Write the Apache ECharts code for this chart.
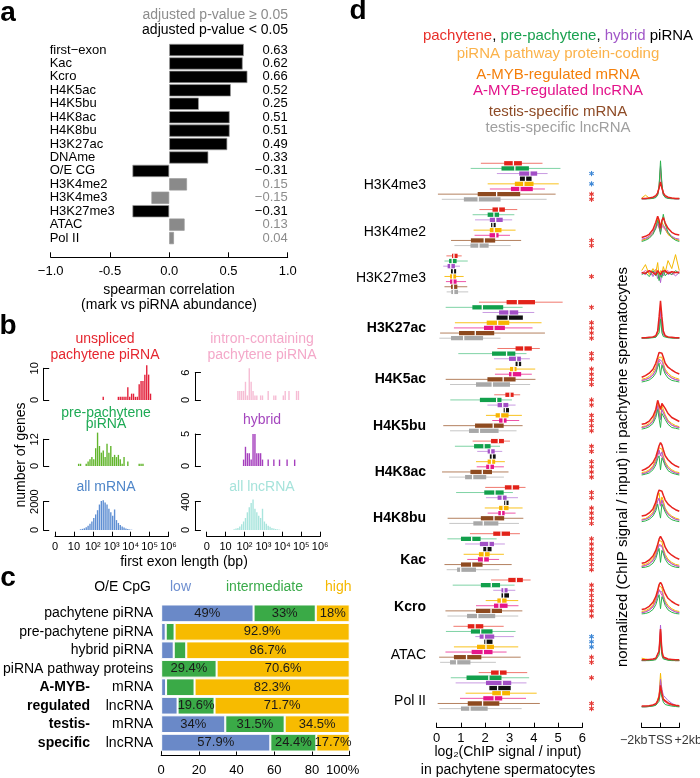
<!DOCTYPE html>
<html><head><meta charset="utf-8">
<script src="https://cdn.jsdelivr.net/npm/echarts@6/dist/echarts.min.js"></script>
<style>html,body{margin:0;padding:0;background:#fff}#c{width:700px;height:778px}</style>
</head><body><div id="c"></div>
<script>
// ---------------- DATA ----------------
// Panel a
const A_MARKS = ['first\u2212exon','Kac','Kcro','H4K5ac','H4K5bu','H4K8ac','H4K8bu','H3K27ac','DNAme','O/E CG','H3K4me2','H3K4me3','H3K27me3','ATAC','Pol II'];
const A_RHO = [0.63,0.62,0.66,0.52,0.25,0.51,0.51,0.49,0.33,-0.31,0.15,-0.15,-0.31,0.13,0.04];
const A_SIG = [1,1,1,1,1,1,1,1,1,1,0,0,1,0,0];
const A_TICK_LABELS = ['\u22121.0','-0.5','0.0','0.5','1.0'];

// Panel b : [log10 bin start, number of genes]
const B_XTICK_LABELS = ['0','10','10\u00b2','10\u00b3','10\u2074','10\u2075','10\u2076'];
const B_UNSPLICED = [[2.5,1],[3.3,1],[3.4,1],[3.5,1],[3.6,1],[3.7,1],[3.8,4],[3.9,1],[4.0,2],[4.1,2],[4.2,1],[4.3,1],[4.4,5],[4.5,6],[4.6,6],[4.7,8],[4.8,11],[4.9,8],[5.0,2]];
const B_INTRON = [[1.6,2],[1.7,2],[1.8,2],[1.9,2],[2.0,4],[2.1,1],[2.2,7],[2.3,4],[2.4,2],[2.5,1],[2.6,1],[2.8,1],[2.9,1],[3.2,2],[3.5,1],[3.6,1],[4.0,1],[4.1,2],[4.3,2],[4.7,2],[4.8,2]];
const B_PREPACH = [[1.2,1],[1.3,1],[1.6,1],[1.7,2],[1.8,3],[1.9,4],[2.0,3],[2.1,8],[2.2,15],[2.3,9],[2.4,6],[2.5,7],[2.6,4],[2.7,10],[2.8,6],[2.9,9],[3.0,4],[3.1,5],[3.2,4],[3.3,5],[3.4,3],[3.5,1],[3.6,4],[3.8,2],[4.4,1],[4.5,1],[4.6,1]];
const B_HYBRID = [[1.9,1],[2.0,3],[2.1,2],[2.2,2],[2.3,1],[2.4,5],[2.5,5],[2.6,2],[2.7,2],[2.8,2],[2.9,1],[3.2,1],[3.5,1],[3.8,1],[4.2,1],[4.6,1]];
const B_MRNA = [[1.3,50],[1.4,80],[1.5,120],[1.6,200],[1.7,300],[1.8,450],[1.9,600],[2.0,850],[2.1,1100],[2.2,1400],[2.3,1800],[2.4,2050],[2.5,2100],[2.6,1950],[2.7,1800],[2.8,1500],[2.9,1250],[3.0,1000],[3.1,1450],[3.2,700],[3.3,500],[3.4,350],[3.5,250],[3.6,170],[3.7,110],[3.8,70],[3.9,40],[4.0,20]];
const B_LNCRNA = [[1.4,10],[1.5,20],[1.6,30],[1.7,50],[1.8,80],[1.9,120],[2.0,170],[2.1,250],[2.2,320],[2.3,380],[2.4,430],[2.5,300],[2.6,250],[2.7,200],[2.8,170],[2.9,300],[3.0,120],[3.1,90],[3.2,60],[3.3,45],[3.4,30],[3.5,20],[3.6,15],[3.7,10],[3.8,5]];
const B_BINW = 0.1;

// Panel c
const C_ROWS = ['pachytene piRNA','pre-pachytene piRNA','hybrid piRNA','piRNA pathway proteins','mRNA','lncRNA','mRNA','lncRNA'];
const C_LOW = [49,2.4,6.65,0,2.6,8.7,34,57.9];
const C_INTER = [33,4.7,6.65,29.4,15.1,19.6,31.5,24.4];
const C_HIGH = [18,92.9,86.7,70.6,82.3,71.7,34.5,17.7];
const C_LOW_TXT = ['49%','','','','','','34%','57.9%'];
const C_INTER_TXT = ['33%','','','29.4%','','19.6%','31.5%','24.4%'];
const C_HIGH_TXT = ['18%','92.9%','86.7%','70.6%','82.3%','71.7%','34.5%','17.7%'];

// Panel d : [low whisker, q1, median, q3, high whisker] for the 8 gene groups
const D_MARKS = ['H3K4me3','H3K4me2','H3K27me3','H3K27ac','H4K5ac','H4K5bu','H4K8ac','H4K8bu','Kac','Kcro','ATAC','Pol II'];
const D_BOLD = [0,0,0,1,1,1,1,1,1,1,0,0];
const BOX_H3K4me3 = [[1.82,2.78,3.16,3.51,4.36],[1.40,2.67,3.22,3.80,5.10],[2.48,3.40,3.84,4.14,4.57],[3.43,3.43,3.66,3.91,3.91],[2.10,3.22,3.59,3.99,5.03],[2.19,3.06,3.43,3.96,4.46],[0.05,1.69,2.47,3.44,4.90],[0.21,1.12,1.71,2.63,4.53]];
const BOX_H3K4me2 = [[1.76,2.30,2.55,2.81,3.32],[1.48,2.10,2.36,2.57,3.20],[1.58,2.19,2.43,2.72,3.11],[2.24,2.24,2.32,2.43,2.43],[1.52,2.19,2.37,2.67,3.25],[1.56,2.18,2.43,2.55,3.02],[0.59,1.41,1.96,2.41,3.48],[0.73,1.39,1.74,2.14,3.05]];
const BOX_H3K27me3 = [[0.40,0.63,0.71,0.86,1.03],[0.32,0.51,0.64,0.82,1.28],[0.27,0.45,0.58,0.75,0.96],[0.59,0.59,0.69,0.80,0.80],[0.32,0.55,0.66,0.80,1.11],[0.38,0.55,0.67,0.82,1.21],[0.32,0.59,0.69,0.85,1.26],[0.41,0.60,0.70,0.88,1.30]];
const BOX_H3K27ac = [[1.74,2.88,3.33,4.05,5.19],[0.37,1.47,1.88,2.74,3.54],[1.89,2.57,2.98,3.36,4.02],[2.47,2.47,2.95,3.55,3.55],[0.75,2.06,2.51,2.99,4.32],[0.71,1.95,2.36,2.81,3.95],[0.14,0.92,1.59,2.37,4.46],[0.11,0.59,1.11,1.91,2.63]];
const BOX_H4K5ac = [[2.50,3.25,3.59,3.92,4.25],[0.89,2.28,2.88,3.24,3.70],[2.36,2.98,3.29,3.47,3.84],[3.25,3.25,3.36,3.48,3.48],[2.43,3.02,3.18,3.29,4.06],[2.40,2.98,3.11,3.48,3.92],[0.37,2.09,2.74,3.25,4.07],[0.55,1.62,2.29,3.02,3.85]];
const BOX_H4K5bu = [[2.37,2.83,3.02,3.17,3.44],[0.56,1.78,2.47,2.67,3.10],[2.09,2.51,2.72,2.95,3.25],[2.76,2.76,2.83,2.98,2.98],[2.03,2.43,2.63,2.96,3.51],[2.29,2.57,2.74,2.88,3.40],[0.27,1.58,2.33,2.76,3.54],[0.55,1.33,1.76,2.55,3.29]];
const BOX_H4K8ac = [[1.48,2.24,2.54,2.77,3.02],[0.75,1.54,1.95,2.22,2.61],[1.67,2.10,2.22,2.39,2.70],[2.19,2.19,2.29,2.43,2.43],[1.62,2.10,2.26,2.41,2.81],[1.65,2.04,2.19,2.36,2.77],[0.22,1.39,1.88,2.28,2.96],[0.51,1.17,1.48,2.04,2.77]];
const BOX_H4K8bu = [[2.00,2.81,3.11,3.40,3.66],[0.80,1.96,2.40,2.76,3.14],[2.03,2.51,2.70,2.88,3.35],[2.78,2.78,2.85,2.96,2.96],[1.98,2.57,2.74,2.96,3.54],[2.10,2.54,2.67,2.80,3.25],[0.45,1.82,2.36,2.78,3.57],[0.52,1.51,1.92,2.54,3.39]];
const BOX_Kac = [[1.37,2.33,2.65,3.02,3.43],[0.44,1.00,1.44,1.81,2.47],[1.17,1.78,2.15,2.36,2.81],[1.92,1.92,2.07,2.26,2.26],[1.11,1.74,1.96,2.18,2.77],[1.26,1.70,1.93,2.15,2.57],[0.32,1.00,1.44,1.89,3.09],[0.41,0.84,0.99,1.62,2.58]];
const BOX_Kcro = [[2.24,2.95,3.28,3.55,3.87],[0.66,1.82,2.25,2.61,3.21],[2.33,2.67,2.77,2.92,3.24],[2.67,2.67,2.76,2.98,2.98],[2.02,2.50,2.67,2.88,3.36],[1.62,2.36,2.57,2.92,3.37],[0.36,1.62,2.24,2.69,3.53],[0.44,1.25,1.69,2.41,3.36]];
const BOX_ATAC = [[0.69,1.28,1.58,1.92,2.76],[0.38,1.41,1.81,2.30,3.25],[1.59,1.77,1.96,2.37,3.18],[1.96,1.96,2.03,2.30,2.30],[0.71,1.66,2.03,2.36,3.36],[0.36,1.44,1.92,2.30,2.88],[0.10,0.71,1.23,1.84,3.46],[0.14,0.55,0.82,1.39,2.44]];
const BOX_PolII = [[1.73,2.24,2.58,2.88,3.73],[0.58,1.23,2.15,2.67,3.81],[0.78,2.03,2.70,3.07,3.70],[2.17,2.17,2.51,3.05,3.05],[1.19,2.29,2.67,3.02,4.12],[0.96,1.92,2.37,2.70,3.68],[0.04,1.28,1.89,2.58,4.25],[0.11,1.00,1.37,2.10,3.50]];
// significance stars: row indices (0..7) of each group
const STAR_RED = [[6,7],[6,7],[4],[1,4,5,6,7],[1,2,4,5,6,7],[1,2,4,5,6,7],[1,2,4,5,6,7],[1,2,4,5,6,7],[1,2,3,4,5,6,7],[1,2,3,4,5,6,7],[6,7],[1,6,7]];
const STAR_BLUE = [[2,4],[],[],[],[],[],[],[],[],[],[2,3,4],[]];

// TSS profiles (normalized); line order: pink, yellow, purple, green, red
const PROF_X = [-2,-1.6,-1.2,-0.8,-0.5,-0.3,-0.15,0,0.15,0.3,0.5,0.8,1.2,1.6,2];
const PROF_TICK_LABELS = ['\u22122kb','TSS','+2kb'];
const PROF_H3K4me3 = [[0.03,0.03,0.04,0.05,0.08,0.14,0.3,0.7,0.3,0.14,0.08,0.05,0.04,0.03,0.03],[0.05,0.12,0.05,0.05,0.08,0.15,0.35,0.8,0.35,0.15,0.08,0.05,0.04,0.04,0.04],[0.03,0.03,0.04,0.05,0.07,0.14,0.35,0.85,0.38,0.14,0.07,0.05,0.04,0.03,0.03],[0.03,0.03,0.03,0.04,0.06,0.12,0.35,0.98,0.4,0.13,0.06,0.04,0.03,0.03,0.03],[0.04,0.04,0.05,0.07,0.11,0.18,0.3,0.45,0.3,0.18,0.11,0.07,0.05,0.04,0.04]];
const PROF_H3K4me2 = [[0.15,0.18,0.22,0.32,0.45,0.55,0.5,0.35,0.5,0.55,0.42,0.3,0.22,0.18,0.15],[0.15,0.18,0.25,0.35,0.5,0.7,0.6,0.4,0.6,0.65,0.45,0.3,0.22,0.18,0.15],[0.18,0.2,0.25,0.35,0.5,0.6,0.5,0.35,0.55,0.6,0.45,0.35,0.25,0.2,0.18],[0.12,0.15,0.2,0.3,0.45,0.65,0.55,0.3,0.6,0.8,0.55,0.35,0.22,0.15,0.12],[0.22,0.25,0.3,0.42,0.6,0.75,0.65,0.45,0.65,0.72,0.58,0.45,0.35,0.3,0.28]];
const PROF_H3K27me3 = [[0.48,0.55,0.5,0.45,0.58,0.48,0.52,0.4,0.55,0.48,0.5,0.55,0.45,0.5,0.52],[0.55,0.7,0.45,0.6,0.5,0.75,0.4,0.55,0.45,0.65,0.5,0.8,0.6,0.95,0.55],[0.5,0.45,0.55,0.4,0.52,0.35,0.45,0.25,0.5,0.42,0.55,0.45,0.5,0.42,0.5],[0.45,0.5,0.4,0.55,0.42,0.5,0.3,0.45,0.38,0.55,0.42,0.5,0.45,0.55,0.48],[0.5,0.48,0.55,0.5,0.45,0.55,0.5,0.45,0.52,0.5,0.55,0.48,0.52,0.5,0.5]];
const PROF_H3K27ac = [[0.02,0.02,0.03,0.04,0.05,0.1,0.3,0.65,0.3,0.1,0.05,0.04,0.03,0.02,0.02],[0.03,0.03,0.03,0.04,0.06,0.12,0.35,0.75,0.35,0.12,0.06,0.04,0.03,0.03,0.03],[0.02,0.02,0.03,0.04,0.05,0.1,0.3,0.7,0.3,0.1,0.05,0.04,0.03,0.02,0.02],[0.02,0.02,0.02,0.03,0.04,0.06,0.15,0.5,0.15,0.06,0.04,0.03,0.02,0.02,0.02],[0.03,0.03,0.04,0.05,0.08,0.2,0.55,0.95,0.55,0.2,0.08,0.05,0.04,0.03,0.03]];
const PROF_H4K5ac = [[0.12,0.14,0.18,0.26,0.38,0.52,0.62,0.55,0.6,0.48,0.34,0.25,0.18,0.14,0.12],[0.15,0.17,0.22,0.32,0.45,0.6,0.7,0.65,0.7,0.55,0.4,0.3,0.22,0.18,0.15],[0.12,0.14,0.18,0.25,0.38,0.55,0.65,0.6,0.6,0.5,0.35,0.25,0.18,0.14,0.12],[0.08,0.1,0.13,0.2,0.3,0.45,0.55,0.25,0.5,0.4,0.28,0.18,0.12,0.1,0.08],[0.2,0.24,0.3,0.4,0.55,0.7,0.82,0.85,0.8,0.7,0.55,0.45,0.38,0.32,0.28]];
const PROF_H4K5bu = [[0.1,0.12,0.17,0.26,0.42,0.62,0.58,0.3,0.55,0.52,0.36,0.24,0.16,0.12,0.1],[0.12,0.14,0.2,0.3,0.5,0.75,0.7,0.35,0.65,0.6,0.42,0.28,0.2,0.15,0.12],[0.1,0.12,0.16,0.25,0.42,0.65,0.6,0.3,0.55,0.55,0.38,0.25,0.16,0.12,0.1],[0.06,0.08,0.12,0.2,0.35,0.55,0.5,0.1,0.45,0.5,0.3,0.18,0.1,0.08,0.06],[0.18,0.2,0.26,0.38,0.55,0.78,0.75,0.55,0.7,0.72,0.58,0.45,0.35,0.3,0.25]];
const PROF_H4K8ac = [[0.1,0.12,0.17,0.26,0.4,0.55,0.65,0.58,0.62,0.48,0.34,0.24,0.17,0.12,0.1],[0.13,0.15,0.2,0.3,0.45,0.62,0.75,0.7,0.72,0.55,0.4,0.28,0.2,0.15,0.13],[0.1,0.12,0.16,0.25,0.4,0.6,0.7,0.55,0.65,0.5,0.35,0.24,0.16,0.12,0.1],[0.07,0.09,0.12,0.2,0.32,0.48,0.55,0.2,0.5,0.42,0.3,0.18,0.12,0.09,0.07],[0.18,0.22,0.28,0.38,0.52,0.68,0.8,0.88,0.82,0.7,0.55,0.45,0.36,0.3,0.26]];
const PROF_H4K8bu = [[0.1,0.12,0.17,0.26,0.4,0.58,0.64,0.45,0.6,0.5,0.35,0.24,0.17,0.12,0.1],[0.12,0.14,0.2,0.3,0.48,0.7,0.78,0.5,0.68,0.58,0.4,0.28,0.2,0.15,0.12],[0.1,0.12,0.16,0.25,0.4,0.58,0.65,0.45,0.6,0.5,0.36,0.25,0.17,0.12,0.1],[0.06,0.08,0.12,0.2,0.33,0.5,0.55,0.15,0.5,0.45,0.3,0.18,0.11,0.08,0.06],[0.2,0.22,0.28,0.38,0.55,0.75,0.85,0.8,0.82,0.72,0.6,0.5,0.42,0.36,0.32]];
const PROF_Kac = [[0.1,0.12,0.17,0.26,0.4,0.55,0.65,0.62,0.62,0.48,0.34,0.24,0.17,0.12,0.1],[0.13,0.15,0.2,0.3,0.45,0.62,0.75,0.78,0.72,0.55,0.4,0.28,0.2,0.15,0.13],[0.1,0.12,0.16,0.24,0.36,0.52,0.62,0.58,0.6,0.5,0.34,0.23,0.16,0.12,0.1],[0.07,0.08,0.11,0.18,0.3,0.45,0.55,0.2,0.5,0.42,0.28,0.17,0.11,0.08,0.07],[0.18,0.2,0.26,0.36,0.5,0.65,0.78,0.85,0.82,0.72,0.58,0.46,0.38,0.32,0.28]];
const PROF_Kcro = [[0.1,0.12,0.17,0.26,0.4,0.55,0.68,0.6,0.62,0.48,0.34,0.24,0.17,0.12,0.1],[0.13,0.15,0.2,0.3,0.45,0.62,0.78,0.75,0.72,0.55,0.4,0.28,0.2,0.15,0.13],[0.1,0.12,0.16,0.24,0.38,0.55,0.65,0.6,0.62,0.5,0.34,0.23,0.16,0.12,0.1],[0.07,0.08,0.11,0.18,0.3,0.45,0.55,0.2,0.5,0.42,0.28,0.17,0.11,0.08,0.07],[0.18,0.2,0.26,0.36,0.5,0.66,0.8,0.86,0.8,0.7,0.58,0.46,0.38,0.32,0.28]];
const PROF_ATAC = [[0.06,0.06,0.07,0.08,0.1,0.13,0.28,0.8,0.26,0.12,0.09,0.08,0.07,0.06,0.06],[0.12,0.1,0.08,0.08,0.1,0.14,0.3,0.85,0.28,0.13,0.09,0.08,0.07,0.06,0.06],[0.06,0.06,0.07,0.08,0.1,0.14,0.3,0.95,0.28,0.12,0.09,0.08,0.07,0.06,0.06],[0.06,0.06,0.06,0.07,0.08,0.1,0.2,0.55,0.18,0.1,0.08,0.07,0.06,0.06,0.06],[0.08,0.08,0.09,0.1,0.12,0.16,0.3,0.85,0.3,0.15,0.11,0.1,0.09,0.08,0.08]];
const PROF_PolII = [[0.06,0.06,0.07,0.09,0.11,0.15,0.3,0.7,0.38,0.22,0.17,0.13,0.1,0.08,0.07],[0.07,0.07,0.08,0.1,0.12,0.16,0.35,0.9,0.45,0.28,0.22,0.16,0.12,0.1,0.08],[0.07,0.07,0.08,0.1,0.12,0.16,0.3,0.75,0.5,0.35,0.3,0.22,0.15,0.1,0.08],[0.06,0.06,0.07,0.08,0.1,0.13,0.2,0.45,0.3,0.18,0.12,0.1,0.08,0.07,0.06],[0.08,0.08,0.09,0.11,0.14,0.2,0.32,0.6,0.4,0.25,0.2,0.16,0.12,0.1,0.09]];

// ---------------- BUILD ----------------
const FF = '"Liberation Sans", Arial, Helvetica, sans-serif';
const font = (s, w) => (w || 'normal') + ' ' + s + 'px ' + FF;
const grids = [], xAxes = [], yAxes = [], series = [], graphic = [];
function txt(x, y, text, size, color, align, extra) {
  const e = Object.assign({type:'text', x:x, y:y, silent:true, style:{text:text, font:font(size, extra && extra.weight), fill:color, align:align||'center', textAlign:align||'center', verticalAlign:'middle', textVerticalAlign:'middle'}}, extra && extra.el ? extra.el : {});
  if (extra && extra.rich) e.style.rich = extra.rich;
  graphic.push(e);
}
function addGrid(g, xa, ya) {
  const gi = grids.length; grids.push(g);
  const xi = xAxes.length; xAxes.push(Object.assign({gridIndex:gi}, xa));
  const yi = yAxes.length; yAxes.push(Object.assign({gridIndex:gi}, ya));
  return {gi, xi, yi};
}
const fmtNum = v => (v < 0 ? '\u2212' + Math.abs(v).toFixed(2) : v.toFixed(2));
const axLine = {show:true, onZero:false, lineStyle:{color:'#000', width:1}};
const axTick = {show:true, inside:true, length:5, lineStyle:{color:'#000'}};

// panel letters
txt(8, 13, 'a', 28, '#000', 'center', {weight:'bold'});
txt(8, 326, 'b', 28, '#000', 'center', {weight:'bold'});
txt(8, 578, 'c', 28, '#000', 'center', {weight:'bold'});
txt(358, 11, 'd', 28, '#000', 'center', {weight:'bold'});

// ---- panel a ----
txt(288, 15, 'adjusted p-value \u2265 0.05', 14, '#8c8c8c', 'right');
txt(288, 30, 'adjusted p-value < 0.05', 14, '#000', 'right');
txt(169, 290, 'spearman correlation', 14, '#000');
txt(169, 305, '(mark vs piRNA abundance)', 14, '#000');
const pa = addGrid({left:50.7, top:43.3, width:237, height:201.5},
  {type:'value', min:-1, max:1, interval:0.5, offset:12.5, axisLine:axLine, axisTick:axTick,
   axisLabel:{fontSize:13, color:'#000', fontFamily:FF, margin:8, showMinLabel:true, showMaxLabel:true, formatter:v => A_TICK_LABELS[Math.round((v + 1) / 0.5)]}, splitLine:{show:false}},
  {type:'category', inverse:true, data:A_MARKS, axisLine:{show:false}, axisTick:{show:false},
   axisLabel:{interval:0, align:'left', margin:1, fontSize:13, color:'#000', fontFamily:FF}});
yAxes.push({gridIndex:pa.gi, type:'category', inverse:true, position:'right', data:A_RHO.map(fmtNum), axisLine:{show:false}, axisTick:{show:false},
  axisLabel:{interval:0, align:'right', margin:0, fontSize:13, fontFamily:FF, color:(v, i) => A_SIG[i] ? '#000' : '#8c8c8c'}});
series.push({type:'bar', xAxisIndex:pa.xi, yAxisIndex:pa.yi, barCategoryGap:'9%', silent:true,
  itemStyle:{borderColor:'#9a9a9a', borderWidth:0.7},
  data:A_RHO.map((v, i) => ({value:v, itemStyle:{color:A_SIG[i] ? '#000' : '#8a8a8a'}}))});

// ---- panel b ----
txt(105, 339, 'unspliced', 14, '#e5262f');
txt(105, 355, 'pachytene piRNA', 14, '#e5262f');
txt(262, 339, 'intron-containing', 14, '#f4a8c9');
txt(262, 355, 'pachytene piRNA', 14, '#f4a8c9');
txt(106, 413, 'pre-pachytene', 14, '#1eaa55');
txt(106, 424, 'piRNA', 14, '#1eaa55');
txt(262, 420, 'hybrid', 14, '#a547be');
txt(106, 487, 'all mRNA', 14, '#4f86c9');
txt(262, 487, 'all lncRNA', 14, '#a6e3db');
txt(184, 562, 'first exon length (bp)', 14, '#000');
txt(21, 455, 'number of genes', 14, '#000', 'center', {el:{rotation:Math.PI / 2}});
const B_PANELS = [
  {bins:B_UNSPLICED, color:'#e3203a', left:55, top:368.3, h:31.7, max:10, bottom:false},
  {bins:B_INTRON, color:'#f6bcd4', left:206.7, top:372.7, h:27.3, max:6, bottom:false},
  {bins:B_PREPACH, color:'#62b52c', left:55, top:439.3, h:26.7, max:12, bottom:false},
  {bins:B_HYBRID, color:'#a53fbd', left:206.7, top:434, h:32, max:5, bottom:false},
  {bins:B_MRNA, color:'#5f8fd3', left:55, top:501.7, h:28.3, max:2000, bottom:true},
  {bins:B_LNCRNA, color:'#a9e5dd', left:206.7, top:501.7, h:28.3, max:400, bottom:true}
];
function renderHist(params, api) {
  const x = api.value(0), c = api.value(1);
  const p0 = api.coord([x, 0]), p1 = api.coord([x + B_BINW, c]);
  return {type:'rect', shape:{x:p0[0] + 0.25, y:p1[1], width:Math.max(0.6, p1[0] - p0[0] - 0.5), height:p0[1] - p1[1]}, style:{fill:api.visual('color')}};
}
B_PANELS.forEach(p => {
  const ix = addGrid({left:p.left, top:p.top, width:113.5, height:p.h},
    {type:'value', min:0, max:6, interval:1, show:p.bottom, offset:6.7, axisLine:axLine, axisTick:axTick,
     axisLabel:{fontSize:11, color:'#000', fontFamily:FF, margin:5, showMinLabel:true, showMaxLabel:true, formatter:v => B_XTICK_LABELS[Math.round(v)]}, splitLine:{show:false}},
    {type:'value', min:0, max:p.max, interval:p.max, offset:11.8, axisLine:axLine,
     axisTick:{show:true, inside:true, length:6, lineStyle:{color:'#000'}},
     axisLabel:{rotate:90, fontSize:11, color:'#000', fontFamily:FF, margin:3, showMinLabel:true, showMaxLabel:true, formatter:v => String(v)}, splitLine:{show:false}});
  series.push({type:'custom', xAxisIndex:ix.xi, yAxisIndex:ix.yi, clip:false, silent:true, itemStyle:{color:p.color},
    renderItem:renderHist, encode:{x:0, y:1}, data:p.bins});
});

// ---- panel c ----
txt(151, 587, 'O/E CpG', 14, '#000', 'right');
txt(170, 587, 'low', 14, '#6e8fd0', 'left');
txt(226, 587, 'intermediate', 14, '#3aaa4a', 'left');
txt(325, 587, 'high', 14, '#f5b800', 'left');
txt(90, 687, 'A-MYB-', 14, '#000', 'right', {weight:'bold'});
txt(90, 706, 'regulated', 14, '#000', 'right', {weight:'bold'});
txt(90, 724.5, 'testis-', 14, '#000', 'right', {weight:'bold'});
txt(90, 743, 'specific', 14, '#000', 'right', {weight:'bold'});
const pc = addGrid({left:159.3, top:604.1, width:190.4, height:147.8},
  {type:'value', min:0, max:100, interval:20, offset:3, axisLine:axLine, axisTick:axTick,
   axisLabel:{fontSize:13, color:'#000', fontFamily:FF, margin:9, showMinLabel:true, showMaxLabel:true,
     formatter:v => v === 100 ? '{m|100%}' : String(v), rich:{m:{fontSize:13, fontFamily:FF, color:'#000', padding:[0, 14, 0, 0]}}}, splitLine:{show:false}},
  {type:'category', inverse:true, data:C_ROWS, axisLine:{show:false}, axisTick:{show:false},
   axisLabel:{interval:0, fontSize:14, color:'#000', fontFamily:FF, margin:8}});
[[C_LOW, C_LOW_TXT, '#6a89c8'], [C_INTER, C_INTER_TXT, '#3aaa47'], [C_HIGH, C_HIGH_TXT, '#f7bb00']].forEach(s => {
  series.push({type:'bar', stack:'cpg', xAxisIndex:pc.xi, yAxisIndex:pc.yi, barCategoryGap:'4%', silent:true,
    itemStyle:{color:s[2], borderColor:'#fff', borderWidth:1},
    label:{show:true, position:'inside', fontSize:13, color:'#1a1a1a', fontFamily:FF, formatter:p => s[1][p.dataIndex]},
    data:s[0]});
});

// ---- panel d ----
txt(558, 36, '{r|pachytene}{k|, }{g|pre-pachytene}{k|, }{p|hybrid}{k| piRNA}', 15, '#000', 'center', {rich:{
  r:{fill:'#e8302a', color:'#e8302a', fontSize:15, fontFamily:FF}, k:{fill:'#000', color:'#000', fontSize:15, fontFamily:FF},
  g:{fill:'#1aa150', color:'#1aa150', fontSize:15, fontFamily:FF}, p:{fill:'#a157c8', color:'#a157c8', fontSize:15, fontFamily:FF}}});
txt(558, 53.5, 'piRNA pathway protein-coding', 15, '#fbb24a');
txt(558, 75, 'A-MYB-regulated mRNA', 15, '#f47f0a');
txt(558, 90.7, 'A-MYB-regulated lncRNA', 15, '#e3128a');
txt(558, 112.3, 'testis-specific mRNA', 15, '#8e4b26');
txt(558, 128.3, 'testis-specific lncRNA', 15, '#a0a0a0');
txt(508, 752, 'log\u2082(ChIP signal / input)', 14, '#000');
txt(508, 770, 'in pachytene spermatocytes', 14, '#000');
txt(623, 467, 'normalized (ChIP signal / input) in pachytene spermatocytes', 15, '#000', 'center', {el:{rotation:Math.PI / 2}});
const D_LABEL_Y = [185, 231.7, 277.7, 328.3, 379.3, 425.7, 471.7, 518.3, 560, 606.7, 655, 701];
D_MARKS.forEach((m, g) => txt(426, D_LABEL_Y[g], m, 14, '#000', 'right', {weight:D_BOLD[g] ? 'bold' : 'normal'}));

const BOX_COLORS = ['#e2231a', '#12a04c', '#a24fc6', '#111111', '#f8b400', '#e6168b', '#8e4a1f', '#a8a8a8'];
const WHISK_COLORS = ['#f0776d', '#7fd3a5', '#c99be2', '#111111', '#f9c21e', '#ee55a8', '#b4815f', '#c6c6c6'];
const D_BOXES = [BOX_H3K4me3, BOX_H3K4me2, BOX_H3K27me3, BOX_H3K27ac, BOX_H4K5ac, BOX_H4K5bu, BOX_H4K8ac, BOX_H4K8bu, BOX_Kac, BOX_Kcro, BOX_ATAC, BOX_PolII];
const pd = addGrid({left:436.7, top:160.7, width:145.6, height:550.5},
  {type:'value', min:0, max:6, interval:1, offset:16.5, axisLine:axLine, axisTick:axTick,
   axisLabel:{fontSize:13, color:'#000', fontFamily:FF, margin:4, showMinLabel:true, showMaxLabel:true}, splitLine:{show:false}},
  {type:'value', min:-0.5, max:106.5, inverse:true, show:false});
const boxData = [];
D_BOXES.forEach((arr, g) => arr.forEach((s, r) => boxData.push([g * 9 + r, s[0], s[1], s[2], s[3], s[4], r])));
series.push({type:'custom', xAxisIndex:pd.xi, yAxisIndex:pd.yi, clip:false, silent:true, encode:{x:[1, 2, 3, 4, 5], y:0}, data:boxData,
  renderItem:(params, api) => {
    const y = api.value(0), ci = api.value(6);
    const lo = api.coord([api.value(1), y]), q1 = api.coord([api.value(2), y]), md = api.coord([api.value(3), y]);
    const q3 = api.coord([api.value(4), y]), hi = api.coord([api.value(5), y]);
    const h = 4.3, ch = [];
    if (hi[0] - lo[0] > q3[0] - q1[0] + 0.5) ch.push({type:'line', shape:{x1:lo[0], y1:lo[1], x2:hi[0], y2:hi[1]}, style:{stroke:WHISK_COLORS[ci], lineWidth:1}});
    ch.push({type:'rect', shape:{x:q1[0], y:q1[1] - h / 2, width:q3[0] - q1[0], height:h}, style:{fill:BOX_COLORS[ci]}});
    ch.push({type:'line', shape:{x1:md[0], y1:md[1] - h / 2 - 0.3, x2:md[0], y2:md[1] + h / 2 + 0.3}, style:{stroke:'#fff', lineWidth:1.3}});
    return {type:'group', children:ch};
  }});
const starData = [];
STAR_RED.forEach((rows, g) => rows.forEach(r => starData.push([6.38, g * 9 + r, 0])));
STAR_BLUE.forEach((rows, g) => rows.forEach(r => starData.push([6.38, g * 9 + r, 1])));
series.push({type:'custom', xAxisIndex:pd.xi, yAxisIndex:pd.yi, clip:false, silent:true, encode:{x:0, y:1}, data:starData,
  renderItem:(params, api) => {
    const c = api.coord([api.value(0), api.value(1)]);
    const col = api.value(2) ? '#3d87d6' : '#e53935';
    const L = 2.6, ch = [];
    [90, 30, -30].forEach(a => {
      const dx = L * Math.cos(a * Math.PI / 180), dy = L * Math.sin(a * Math.PI / 180);
      ch.push({type:'line', shape:{x1:c[0] - dx, y1:c[1] - dy, x2:c[0] + dx, y2:c[1] + dy}, style:{stroke:col, lineWidth:1.1}});
    });
    return {type:'group', children:ch};
  }});

// profiles
const PROFILES = [PROF_H3K4me3, PROF_H3K4me2, PROF_H3K27me3, PROF_H3K27ac, PROF_H4K5ac, PROF_H4K5bu, PROF_H4K8ac, PROF_H4K8bu, PROF_Kac, PROF_Kcro, PROF_ATAC, PROF_PolII];
const PROF_COLORS = ['#ea4f9c', '#f5b800', '#b25fd0', '#2bb24c', '#e8231f'];
PROFILES.forEach((lines, g) => {
  const ix = addGrid({left:641.7, top:160 + g * 46.3, width:37.6, height:40},
    {type:'value', min:-2, max:2, show:false}, {type:'value', min:0, max:1, show:false});
  lines.forEach((vals, k) => {
    series.push({type:'line', xAxisIndex:ix.xi, yAxisIndex:ix.yi, showSymbol:false, silent:true, clip:false,
      lineStyle:{color:PROF_COLORS[k], width:k === 4 ? 1.5 : 1}, itemStyle:{color:PROF_COLORS[k]},
      data:PROF_X.map((x, i) => [x, vals[i]])});
  });
});
// bracket axis under the profiles
const pp = addGrid({left:641.7, top:700, width:37.6, height:27.7},
  {type:'value', min:-2, max:2, interval:2, axisLine:axLine, axisTick:axTick, axisLabel:{show:false}, splitLine:{show:false}},
  {type:'value', min:0, max:1, show:false});
series.push({type:'scatter', xAxisIndex:pp.xi, yAxisIndex:pp.yi, silent:true, symbolSize:0, clip:false,
  data:[[-2, 0], [0, 0], [2, 0]],
  label:{show:true, position:'bottom', distance:6, fontSize:12.5, color:'#000', fontFamily:FF,
    formatter:p => PROF_TICK_LABELS[p.dataIndex]},
  labelLayout:p => ({dx: p.dataIndex === 0 ? -8 : (p.dataIndex === 2 ? 9 : 0), hideOverlap:false})});

const chart = echarts.init(document.getElementById('c'), null, {renderer:'canvas'});
chart.setOption({animation:false, backgroundColor:'#fff', textStyle:{fontFamily:FF},
  grid:grids, xAxis:xAxes, yAxis:yAxes, series:series, graphic:graphic});
</script></body></html>
